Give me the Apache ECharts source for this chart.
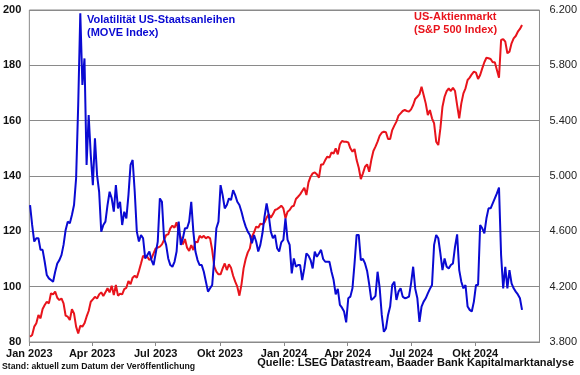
<!DOCTYPE html>
<html>
<head>
  <meta charset="utf-8">
  <title></title>
  <style>
    html, body { margin: 0; padding: 0; background: #fff; }
  </style>
</head>
<body>
  <div id="main" style="width: 580px;height:375px;"></div>
</body>
<script src="https://cdn.jsdelivr.net/npm/echarts@6/dist/echarts.min.js"></script>
<script>
  // sampled every 3 days starting 2023-01-02
  let startDate = '2023-01-02';
  let stepDays = 3;

  // MOVE index (left axis)
  let move = [
    129.5,122.3,116.3,117.5,117.5,113.3,113.3,109.0,104.2,103.0,
    102.4,101.8,105.4,108.4,109.6,111.4,115.1,120.5,123.5,122.9,
    125.9,129.5,139.2,165.7,198.8,172.9,182.5,144.0,162.0,147.6,
    136.7,153.6,140.4,134.3,119.9,122.3,123.5,129.5,134.3,131.9,
    127.1,136.7,128.3,130.7,122.3,127.1,124.7,133.1,144.0,145.8,
    134.3,119.9,116.3,118.7,117.5,110.2,111.4,112.7,109.6,107.8,
    112.0,116.3,131.9,130.7,117.5,115.1,110.2,107.8,107.2,109.0,
    112.7,123.5,115.1,117.5,121.1,121.1,123.5,130.7,119.9,112.7,
    109.6,107.8,107.8,105.4,101.8,98.2,99.4,100.6,110.2,121.1,
    123.5,136.7,133.1,128.3,129.5,131.9,131.3,134.9,133.1,130.7,
    129.5,127.1,124.1,121.7,119.9,118.7,115.7,118.7,116.3,112.7,
    115.1,119.3,125.3,130.1,125.9,119.9,117.5,118.7,113.9,112.7,
    116.0,116.9,124.7,116.9,115.1,104.8,110.2,107.2,107.8,107.8,
    102.4,106.6,112.0,111.2,109.6,106.6,112.7,110.8,112.0,113.3,
    110.0,109.0,109.0,109.0,105.4,102.4,97.2,99.2,93.4,92.4,
    91.0,87.1,95.8,96.4,99.4,108.4,118.7,118.7,109.6,110.0,
    108.4,105.7,100.8,95.2,95.8,96.7,105.4,99.6,89.8,83.7,
    84.9,89.8,92.8,100.6,101.8,95.2,98.2,99.4,96.4,95.8,
    96.0,96.4,101.2,107.2,99.2,95.8,87.3,92.8,94.6,95.8,
    97.6,99.2,100.6,115.1,118.7,117.5,112.0,106.0,110.2,107.2,
    106.6,107.8,108.4,114.5,118.9,106.0,101.8,99.4,100.6,92.8,
    91.6,91.0,94.6,100.6,100.6,122.3,121.1,119.3,124.7,128.3,
    128.3,130.1,131.9,133.7,135.8,111.4,99.4,107.2,99.4,106.0,
    101.2,99.4,98.2,97.2,95.8,91.6
  ];

  // S&P 500 (right axis)
  let spx = [
    3838,3850,3911,3935,3995,3971,4038,4067,4091,4079,
    4152,4144,4164,4120,4103,4115,4079,3990,3983,3959,
    4038,4007,3911,3862,3918,3911,3935,3983,4024,4091,
    4108,4127,4115,4144,4159,4132,4159,4188,4159,4207,
    4139,4212,4135,4149,4144,4183,4192,4241,4217,4265,
    4279,4265,4313,4368,4424,4410,4417,4392,4405,4441,
    4477,4482,4489,4506,4537,4573,4578,4621,4641,4626,
    4665,4597,4554,4506,4544,4482,4458,4501,4465,4525,
    4520,4568,4554,4568,4549,4561,4549,4465,4344,4308,
    4289,4289,4332,4368,4320,4361,4337,4279,4236,4200,
    4135,4217,4332,4400,4448,4477,4561,4593,4634,4626,
    4655,4650,4665,4699,4723,4699,4723,4754,4761,4771,
    4785,4766,4694,4742,4754,4778,4785,4834,4850,4867,
    4891,4915,4862,4954,4995,5019,5026,5012,4988,5084,
    5084,5115,5140,5132,5171,5161,5200,5156,5229,5253,
    5248,5248,5243,5200,5176,5195,5115,5060,4978,5019,
    5067,5084,5031,5115,5181,5212,5248,5291,5313,5320,
    5316,5267,5267,5332,5364,5393,5436,5453,5470,5477,
    5470,5465,5482,5513,5557,5573,5590,5646,5585,5525,
    5441,5477,5417,5381,5248,5224,5344,5501,5573,5614,
    5634,5614,5638,5614,5513,5417,5525,5597,5634,5694,
    5711,5735,5754,5747,5701,5730,5778,5822,5855,5851,
    5846,5822,5822,5766,5711,5983,5990,5971,5887,5899,
    5959,5995,6012,6043,6063,6092
  ];

  let axisStart = '2023-01-01';
  let axisEnd = '2025-01-01';
  let tickDates = ['2023-01-01','2023-04-01','2023-07-01','2023-10-01','2024-01-01','2024-04-01','2024-07-01','2024-10-01'];
  let monthNames = ['Jan','Feb','Mrz','Apr','Mai','Jun','Jul','Aug','Sep','Okt','Nov','Dez'];

  function utc(s) {
    let p = s.split('-').map(Number);
    return Date.UTC(p[0], p[1] - 1, p[2]);
  }
  let day = 24 * 3600 * 1000;
  let base = utc(axisStart);
  // x values are days since axisStart
  function dayOf(s) { return Math.round((utc(s) - base) / day); }
  let d0 = dayOf(startDate);
  let moveData = move.map((v, i) => [d0 + i * stepDays, v]);
  let spxData = spx.map((v, i) => [d0 + i * stepDays, v]);
  let ticks = tickDates.map(dayOf);

  let fontFamily = '"Liberation Sans", Arial, sans-serif';
  let blue = '#0a0ad2';
  let red = '#e8141c';

  var myChart = echarts.init(document.getElementById('main'));

  option = {
    animation: false,
    textStyle: { fontFamily: fontFamily },
    grid: {
      left: 29, right: 39, top: 10, bottom: 33,
      show: true, borderColor: '#8a8a8a', borderWidth: 1
    },
    xAxis: {
      type: 'value',
      min: 0,
      max: dayOf(axisEnd),
      axisLine: { show: true, lineStyle: { color: '#8a8a8a', width: 1 } },
      axisTick: { show: true, length: 4, customValues: ticks, lineStyle: { color: '#8a8a8a' } },
      axisLabel: {
        customValues: ticks,
        margin: 6,
        color: '#111',
        fontWeight: 'bold',
        fontSize: 11,
        fontFamily: fontFamily,
        formatter: function (v) {
          let d = new Date(base + v * day);
          return monthNames[d.getUTCMonth()] + ' ' + d.getUTCFullYear();
        }
      },
      splitLine: { show: false }
    },
    yAxis: [{
      type: 'value',
      min: 80, max: 200, interval: 20,
      axisLine: { show: false },
      axisTick: { show: false },
      axisLabel: { margin: 8, color: '#111', fontWeight: 'bold', fontSize: 11, fontFamily: fontFamily },
      splitLine: { lineStyle: { color: '#8a8a8a', width: 1 } }
    }, {
      type: 'value',
      min: 3800, max: 6200, interval: 400,
      position: 'right',
      axisLine: { show: false },
      axisTick: { show: false },
      axisLabel: {
        margin: 10, color: '#222', fontSize: 11, fontFamily: fontFamily,
        formatter: function (v) { return String(v).replace(/\B(?=(\d{3})+(?!\d))/g, '.'); }
      },
      splitLine: { show: false }
    }],
    graphic: [{
      type: 'text', left: 87, top: 13,
      style: {
        text: 'Volatilität US-Staatsanleihen\n(MOVE Index)',
        font: 'bold 11px ' + fontFamily, fill: blue, lineHeight: 13
      }
    }, {
      type: 'text', left: 414, top: 10,
      style: {
        text: 'US-Aktienmarkt\n(S&P 500 Index)',
        font: 'bold 11px ' + fontFamily, fill: red, lineHeight: 13
      }
    }, {
      type: 'text', left: 2, top: 362,
      style: {
        text: 'Stand: aktuell zum Datum der Veröffentlichung',
        font: 'bold 8.7px ' + fontFamily, fill: '#111'
      }
    }, {
      type: 'text', right: 6, top: 357,
      style: {
        text: 'Quelle: LSEG Datastream, Baader Bank Kapitalmarktanalyse',
        font: 'bold 11px ' + fontFamily, fill: '#111'
      }
    }],
    series: [{
      name: 'S&P 500',
      type: 'line',
      yAxisIndex: 1,
      data: spxData,
      showSymbol: false,
      lineStyle: { color: red, width: 2 },
      itemStyle: { color: red }
    }, {
      name: 'MOVE',
      type: 'line',
      yAxisIndex: 0,
      data: moveData,
      showSymbol: false,
      lineStyle: { color: blue, width: 2 },
      itemStyle: { color: blue }
    }]
  };

  myChart.setOption(option);
</script>
</html>
